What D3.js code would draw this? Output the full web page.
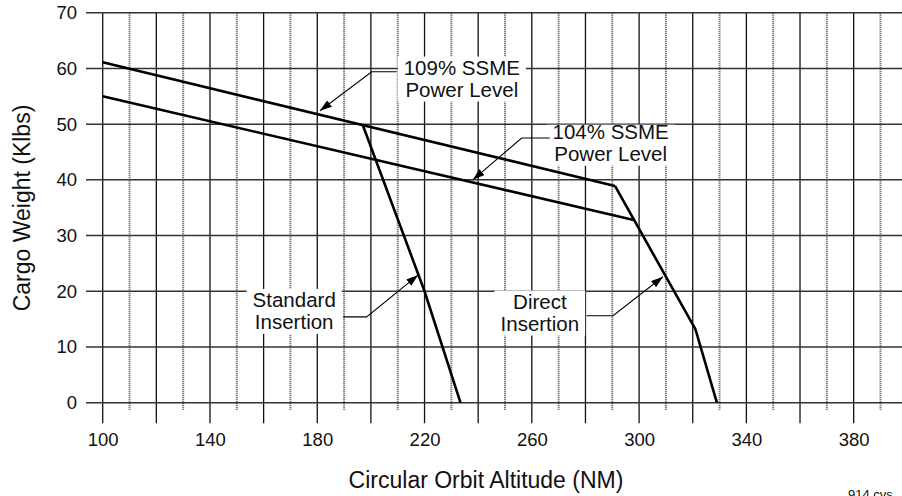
<!DOCTYPE html>
<html><head><meta charset="utf-8">
<script src="https://cdn.jsdelivr.net/npm/d3@7/dist/d3.min.js"></script>
<style>
html,body{margin:0;padding:0;background:#fff;overflow:hidden}
svg{display:block;font-family:"Liberation Sans",Arial,sans-serif}
</style></head>
<body>
<svg id="chart" width="902" height="496"></svg>
<script>
// ---- data ----
const xTickValues = [100,140,180,220,260,300,340,380];
const yTickValues = [0,10,20,30,40,50,60,70];
const gridX = [100,110,120,130,140,150,160,170,180,190,200,210,220,230,240,250,260,270,280,290,300,310,320,330,340,350,360,370,380,390];

const power109Alt = [100, 291];
const power109Wt  = [61.1, 38.9];
const power104Alt = [100, 298];
const power104Wt  = [55.0, 32.8];
const standardAlt = [197, 220, 233.4];
const standardWt  = [49.8, 20.0, 0];
const directAlt   = [291, 321, 329];
const directWt    = [38.9, 13.2, 0];

const labelTexts = [["109% SSME","Power Level"],["104% SSME","Power Level"],["Standard","Insertion"],["Direct","Insertion"]];
// label centre (data units), leader start at box edge, leader corner, arrow tip
const labelCentre = [[233.9,58.2],[289.4,46.7],[171.4,16.5],[263.0,16.2]];
const leaderStart = [[209.6,59.4],[266.7,47.5],[189.7,15.4],[280.4,15.6]];
const leaderCorner= [[200.3,59.4],[256.2,47.5],[198.4,15.4],[290.3,15.6]];
const arrowTip    = [[181.0,52.4],[238.0,40.0],[217.6,22.9],[308.9,22.6]];

const xTitle = "Circular Orbit Altitude (NM)";
const yTitle = "Cargo Weight (Klbs)";
const fileTag = "914.cvs";

// ---- layout ----
const svg = d3.select("#chart");
const x = d3.scaleLinear().domain([100,400]).range([102.7,907.3]);
const y = d3.scaleLinear().domain([0,70]).range([402.7,12.7]);

const defs = svg.append("defs");
defs.append("marker").attr("id","arr").attr("viewBox","0 0 12 8")
  .attr("refX",12).attr("refY",4).attr("markerWidth",12).attr("markerHeight",8)
  .attr("markerUnits","userSpaceOnUse").attr("orient","auto")
  .append("path").attr("d","M0,0 L12,4 L0,8 Z").attr("fill","#000");

// vertical grid (solid at multiples of 20, dotted otherwise)
const isMajor = d => d % 20 === 0;
svg.append("g").selectAll("line").data(gridX).join("line")
  .attr("x1",d=>x(d)).attr("x2",d=>x(d))
  .attr("y1",y(70)).attr("y2",d=> isMajor(d) ? 423.3 : 410.7)
  .attr("stroke",d=> isMajor(d) ? "#111" : "#555")
  .attr("stroke-width",d=> isMajor(d) ? 1.3 : 2)
  .attr("stroke-dasharray",d=> isMajor(d) ? null : "1,1");

// horizontal grid
svg.append("g").selectAll("line").data(yTickValues).join("line")
  .attr("x1",86).attr("x2",902)
  .attr("y1",d=>y(d)).attr("y2",d=>y(d))
  .attr("stroke","#333").attr("stroke-width",1.5);

// axes (labels only; the grid carries the tick lines)
const xAxis = d3.axisBottom(x).tickValues(xTickValues).tickSize(0).tickPadding(0);
const gx = svg.append("g").attr("transform","translate(0,433)").call(xAxis);
gx.select(".domain").remove();
gx.selectAll("text").attr("font-size",18.5).attr("fill","#111").attr("font-family","Liberation Sans, Arial, sans-serif").attr("dy","0.71em");

const yAxis = d3.axisLeft(y).tickValues(yTickValues).tickSize(0).tickPadding(0);
const gy = svg.append("g").attr("transform","translate(77,0)").call(yAxis);
gy.select(".domain").remove();
gy.selectAll("text").attr("font-size",18.5).attr("fill","#111").attr("font-family","Liberation Sans, Arial, sans-serif");

// data lines
const line = d3.line().x(d=>x(d[0])).y(d=>y(d[1]));
const series = [
  d3.zip(power109Alt, power109Wt),
  d3.zip(power104Alt, power104Wt),
  d3.zip(standardAlt, standardWt),
  d3.zip(directAlt, directWt)
];
svg.append("g").selectAll("path").data(series).join("path")
  .attr("d",line).attr("fill","none").attr("stroke","#000")
  .attr("stroke-width",2.6).attr("stroke-linejoin","miter");

// annotations
const boxTopPad = [1, 5, 1, 1];
const ann = svg.append("g");
labelTexts.forEach((rows,i)=>{
  const g = ann.append("g");
  const cx = x(labelCentre[i][0]), cy = y(labelCentre[i][1]);
  const bg = g.append("rect").attr("fill","#fff");
  const t = g.append("text").attr("text-anchor","middle").attr("font-size",20.5).attr("fill","#111");
  rows.forEach((r,k)=>{
    t.append("tspan").attr("x",cx).attr("y",cy + (k-0.5)*22).attr("dy","0.35em").text(r);
  });
  const bb = t.node().getBBox();
  bg.attr("x",bb.x-6).attr("y",bb.y+boxTopPad[i]).attr("width",bb.width+12).attr("height",bb.height+1-boxTopPad[i]);
  g.append("path")
    .attr("d", d3.line()([[x(leaderStart[i][0]),y(leaderStart[i][1])],[x(leaderCorner[i][0]),y(leaderCorner[i][1])],[x(arrowTip[i][0]),y(arrowTip[i][1])]]))
    .attr("fill","none").attr("stroke","#000").attr("stroke-width",1.1)
    .attr("marker-end","url(#arr)");
});

// titles
svg.append("text").attr("x",486).attr("y",488).attr("text-anchor","middle")
  .attr("font-size",23).attr("fill","#111").text(xTitle);
svg.append("text").attr("transform","translate(30,208) rotate(-90)").attr("text-anchor","middle")
  .attr("font-size",23).attr("fill","#111").text(yTitle);
svg.append("text").attr("x",848).attr("y",499).attr("font-size",13).attr("fill","#111").text(fileTag);
</script>
</body></html>
